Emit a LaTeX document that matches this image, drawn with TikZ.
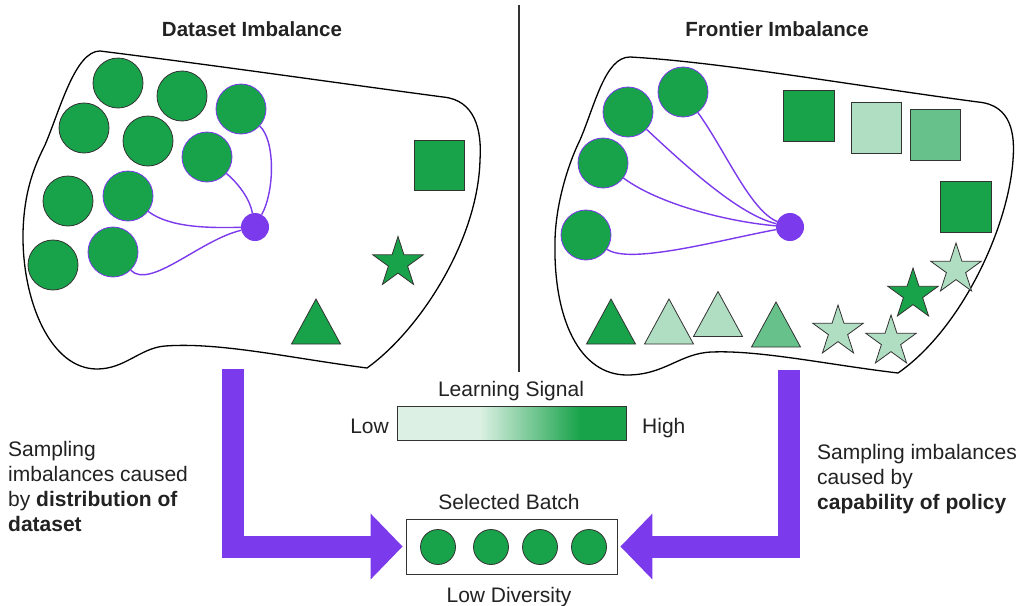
\documentclass[tikz,border=0pt]{standalone}
\usepackage{fontspec}
\setmainfont{Liberation Sans}
\usetikzlibrary{arrows.meta,shapes.geometric}

\definecolor{gd}{RGB}{24,163,74}
\definecolor{gm}{RGB}{102,194,138}
\definecolor{gl}{RGB}{176,222,194}
\definecolor{gxl}{RGB}{220,240,228}
\definecolor{vio}{RGB}{124,58,237}
\definecolor{ink}{RGB}{34,34,34}
\definecolor{edge}{RGB}{51,51,51}

% learning-signal colour ramp (path spans 25bp..75bp)
\pgfdeclarehorizontalshading{signal}{100bp}{color(0bp)=(gxl); color(43bp)=(gxl); color(65bp)=(gd); color(100bp)=(gd)}

\tikzset{
  blob/.style={draw=black, line width=1.3pt},
  ball/.style={circle, draw=edge, line width=0.8pt, fill=gd, minimum size=50pt, inner sep=0pt},
  pball/.style={ball, draw=vio},
  sball/.style={ball, minimum size=35pt},
  hub/.style={circle, fill=vio, minimum size=28pt, inner sep=0pt},
  link/.style={draw=vio, line width=1.4pt},
  sq/.style={rectangle, draw=edge, line width=0.8pt, minimum size=50.5pt, inner sep=0pt},
  starshape/.style={star, star points=5, star point ratio=2.618, draw=edge, line width=0.8pt, minimum size=53pt, inner sep=0pt},
  tri/.pic={\path[pic actions] (-24.5,22.5) -- (0,-22.5) -- (24.5,22.5) -- cycle;},
  title/.style={text=ink, font=\fontsize{20.5}{24}\selectfont\bfseries, inner sep=0pt},
  body/.style={text=ink, font=\fontsize{21}{25}\selectfont, inner sep=0pt},
  bigarrow/.style={draw=vio, line width=22pt, line join=miter, shorten >=3pt,
    -{Triangle[length=32pt,width=64pt]}},
}

\begin{document}
\begin{tikzpicture}[x=1pt,y=-1pt]
\useasboundingbox (0,0) rectangle (1022,605);
\fill[white] (0,0) rectangle (1022,605);

% divider
\coordinate (dtop) at (519,5);
\coordinate (dbot) at (519,372);
\draw[draw=edge, line width=1.2pt] (dtop) -- (dbot);

% titles
\node[title, anchor=base] (tleft) at (252,36) {Dataset Imbalance};
\node[title, anchor=base] (tright) at (777,36) {Frontier Imbalance};

% left region
\draw[blob] (100,51) .. controls (220,66) and (330,82) .. (443,97)
  .. controls (475,100) and (482,130) .. (480,160)
  .. controls (478,240) and (420,330) .. (367,368)
  .. controls (290,358) and (220,342) .. (165,346)
  .. controls (140,348) and (125,369) .. (97,369)
  .. controls (50,369) and (22,300) .. (23,233)
  .. controls (24,190) and (35,165) .. (45,145)
  .. controls (60,110) and (75,51) .. (100,51) -- cycle;

\node[ball]  (l1)  at (118,83)  {};
\node[ball]  (l2)  at (182,96)  {};
\node[pball] (l3)  at (241,109) {};
\node[ball]  (l4)  at (84,128)  {};
\node[ball]  (l5)  at (148,141) {};
\node[pball] (l6)  at (207,157) {};
\node[ball]  (l7)  at (68,201)  {};
\node[pball] (l8)  at (128,196) {};
\node[ball]  (l9)  at (53,265)  {};
\node[pball] (l10) at (113,252) {};
\node[hub]   (lhub) at (255,227) {};

\draw[link] (l3) .. controls (275,140) and (275,190) .. (lhub);
\draw[link] (l6) .. controls (240,185) and (250,200) .. (lhub);
\draw[link] (l8) .. controls (170,228) and (210,228) .. (lhub);
\draw[link] (l10) .. controls (150,290) and (200,240) .. (lhub);

\node[sq, fill=gd] (lsq) at (439.5,165.5) {};
\node[starshape, fill=gd] (lstar) at (398,263) {};
\pic[fill=gd, draw=edge, line width=0.8pt] at (316,321.5) {tri};

% right region
\draw[blob] (630,57) .. controls (720,62) and (850,85) .. (978,102)
  .. controls (1012,105) and (1015,135) .. (1013,160)
  .. controls (1008,230) and (960,330) .. (898,373)
  .. controls (830,365) and (760,350) .. (712,352)
  .. controls (680,353) and (665,375) .. (627,375)
  .. controls (580,375) and (553,320) .. (555,240)
  .. controls (556,200) and (570,160) .. (580,140)
  .. controls (595,105) and (605,57) .. (630,57) -- cycle;

\node[pball] (ra1) at (628,112) {};
\node[pball] (ra2) at (683,92)  {};
\node[pball] (ra3) at (603,163) {};
\node[pball] (ra4) at (586,235) {};
\node[hub]   (rhub) at (790,227) {};

\draw[link] (ra2) .. controls (725,150) and (750,210) .. (rhub);
\draw[link] (ra1) .. controls (690,170) and (740,215) .. (rhub);
\draw[link] (ra3) .. controls (660,205) and (730,222) .. (rhub);
\draw[link] (ra4) .. controls (630,265) and (720,240) .. (rhub);

\node[sq, fill=gd] (rsq1) at (809,116)   {};
\node[sq, fill=gl] (rsq2) at (876.5,128) {};
\node[sq, fill=gm] (rsq3) at (935.5,135) {};
\node[sq, fill=gd] (rsq4) at (966,207)   {};

\pic[fill=gd, draw=edge, line width=0.8pt] at (611,321.5) {tri};
\pic[fill=gl, draw=edge, line width=0.8pt] at (669,321.5) {tri};
\pic[fill=gl, draw=edge, line width=0.8pt] at (718,314)   {tri};
\pic[fill=gm, draw=edge, line width=0.8pt] at (776,324.5) {tri};

\node[starshape, fill=gl] (rst1) at (838,331.5) {};
\node[starshape, fill=gl] (rst2) at (891,341.5) {};
\node[starshape, fill=gd] (rst3) at (913,294.5) {};
\node[starshape, fill=gl] (rst4) at (956,269.5) {};

% learning-signal legend
\node[body, anchor=base] (lstitle) at (511,396) {Learning Signal};
\node[draw=edge, line width=0.8pt, shading=signal, minimum width=229pt, minimum height=34pt, inner sep=0pt] (bar) at (511.5,423) {};
\node[body, anchor=base east] (low) at (389,433) {Low};
\node[body, anchor=base west] (high) at (642,433) {High};

% selected batch
\node[draw=edge, line width=0.8pt, fill=white, minimum width=211pt, minimum height=55pt, inner sep=0pt] (batch) at (511.5,546.5) {};
\node[sball] (b1) at (438,547) {};
\node[sball] (b2) at (491,547) {};
\node[sball] (b3) at (540,547) {};
\node[sball] (b4) at (589,547) {};
\node[body, anchor=base] (sbt) at (509,509) {Selected Batch};
\node[body, anchor=base] (ldv) at (509,602) {Low Diversity};

% flows into the batch
\coordinate (lsrc) at (232.5,369);
\coordinate (rsrc) at (789,370);
\draw[bigarrow] (lsrc) |- (batch.west);
\draw[bigarrow] (rsrc) |- (batch.east);

% captions
\node[body, align=left, anchor=west] (capl) at (8,486)
  {Sampling\\imbalances caused\\by \textbf{distribution of}\\\textbf{dataset}};
\node[body, align=left, anchor=west] (capr) at (817,479)
  {Sampling imbalances\\caused by\\\textbf{capability of policy}};
\end{tikzpicture}
\end{document}
